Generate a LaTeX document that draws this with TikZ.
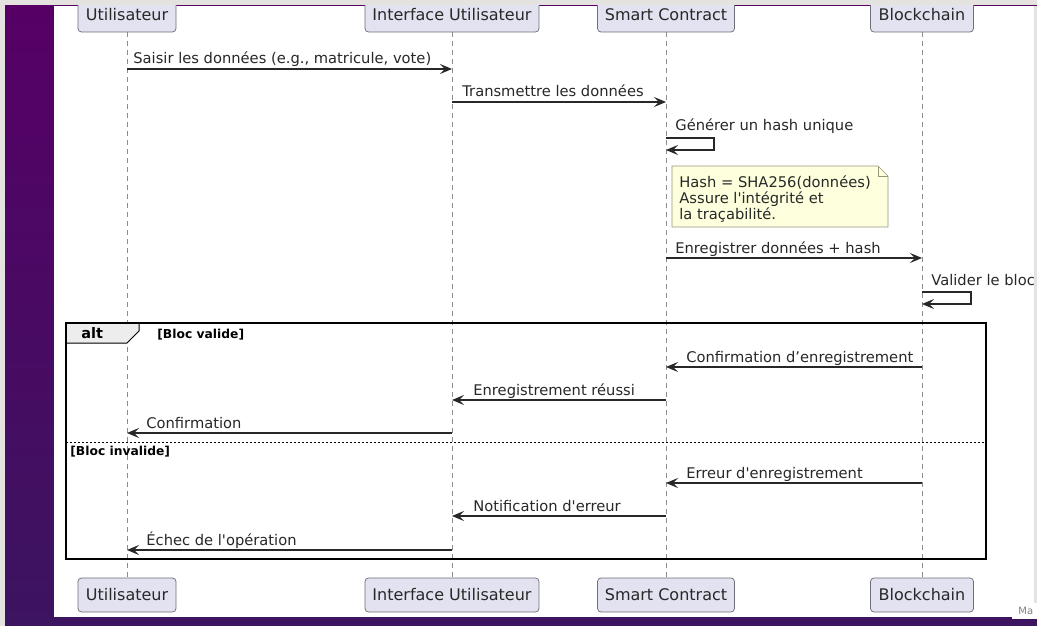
\documentclass[tikz,border=0pt]{standalone}
\usepackage{fontspec}
\setmainfont{DejaVu Sans}[Ligatures=TeXOff]
\usetikzlibrary{arrows.meta}

\definecolor{actorfill}{RGB}{226,226,240}
\definecolor{actorline}{RGB}{110,110,120}
\definecolor{notefill}{RGB}{254,255,221}
\definecolor{noteline}{RGB}{150,150,125}
\definecolor{inkgray}{RGB}{40,40,40}
\definecolor{pageback}{RGB}{228,227,223}
\definecolor{purpletop}{RGB}{86,0,102}
\definecolor{purplebot}{RGB}{60,20,96}

\tikzset{every picture/.style={line width=0.75pt}}
\tikzset{
  actor/.style={draw=actorline, fill=actorfill, rounded corners=3.5pt, minimum height=34pt, inner sep=0pt, font=\fontsize{16}{18}\selectfont, text=inkgray},
  lifeline/.style={draw=gray!90, line width=0.6pt, dash pattern=on 5pt off 4pt},
  msg/.style={draw=inkgray, line width=1.1pt, -{Stealth[length=12pt,width=10pt,inset=5pt]}},
  msgtext/.style={anchor=base west, inner sep=0pt, font=\fontsize{14.7}{16}\selectfont, text=inkgray},
  guard/.style={anchor=base west, inner sep=0pt, font=\bfseries\fontsize{12.3}{14}\selectfont, text=black},
}

\begin{document}
\begin{tikzpicture}[x=1pt,y=1pt,yscale=-1,xscale=1]
\useasboundingbox (0,0) rectangle (1037,626);

%Page background
\fill[pageback] (0,0) rectangle (1037,626);
\shade[top color=purpletop, bottom color=purplebot] (5,6) rectangle (1037,626);
\fill[pageback] (1034,6) rectangle (1037,603);
\fill[white] (54,6) rectangle (1034,617);
\fill[white] (1012,603) rectangle (1037,619);
% Text Node
\node[anchor=base west, inner sep=0pt, font=\fontsize{10}{11}\selectfont, text=gray] (mark) at (1018,614) {Ma};

\begin{scope}
\clip (54,6) rectangle (1034,617);

%Participants
\node[actor, minimum width=98pt] (ut) at (127,15) {Utilisateur};
\node[actor, minimum width=174pt] (ui) at (452,15) {Interface Utilisateur};
\node[actor, minimum width=137pt] (sc) at (666,15) {Smart Contract};
\node[actor, minimum width=103pt] (bc) at (922,15) {Blockchain};
\node[actor, minimum width=98pt] (utb) at (127,595) {Utilisateur};
\node[actor, minimum width=174pt] (uib) at (452,595) {Interface Utilisateur};
\node[actor, minimum width=137pt] (scb) at (666,595) {Smart Contract};
\node[actor, minimum width=103pt] (bcb) at (922,595) {Blockchain};

%Lifelines
\draw[lifeline] (ut) -- (utb);
\draw[lifeline] (ui) -- (uib);
\draw[lifeline] (sc) -- (scb);
\draw[lifeline] (bc) -- (bcb);

%Straight Lines
\draw[msg] (ut |- 0,69) -- (ui |- 0,69);
\draw[msg] (ui |- 0,102) -- (sc |- 0,102);
\draw[msg] (sc |- 0,138) -- ++(48,0) -- ++(0,12) -- (sc |- 0,150);
\draw[msg] (sc |- 0,258) -- (bc |- 0,258);
\draw[msg] (bc |- 0,292) -- ++(49,0) -- ++(0,12) -- (bc |- 0,304);

% Text Node
\node[msgtext] (t1) at (133,64) {Saisir les données (e.g., matricule, vote)};
% Text Node
\node[msgtext] (t2) at (462,97) {Transmettre les données};
% Text Node
\node[msgtext] (t3) at (675,131) {Générer un hash unique};
% Text Node
\node[msgtext] (t4) at (675,253) {Enregistrer données + hash};
% Text Node
\node[msgtext] (t5) at (931,285) {Valider le bloc};

%Shape: Note
\draw[noteline, fill=notefill, line width=0.6pt] (672,166) -- (878,166) -- (888,176) -- (888,227) -- (672,227) -- cycle;
\draw[noteline, line width=0.6pt] (878,166) -- (878,176) -- (888,176);
% Text Node
\node[msgtext, align=left, anchor=north west] (note) at (679,175) {Hash = SHA256(données)\\Assure l'intégrité et\\la traçabilité.};

%Shape: Frame
\fill[black!7] (66,323) -- (139,323) -- (139,331) -- (127,343) -- (66,343) -- cycle;
\draw[line width=1pt] (139,323) -- (139,331) -- (127,343) -- (66,343);
\draw[line width=1.6pt] (66,323) rectangle (986,559);
\draw[line width=0.8pt, dash pattern=on 2pt off 2pt] (66,442) -- (986,442);
% Text Node
\node[anchor=base west, inner sep=0pt, font=\bfseries\fontsize{14.5}{16}\selectfont] (alt) at (81,338) {alt};
% Text Node
\node[guard] (g1) at (157,338) {[Bloc valide]};
% Text Node
\node[guard] (g2) at (70,455) {[Bloc invalide]};

%Straight Lines
\draw[msg] (bc |- 0,367) -- (sc |- 0,367);
\draw[msg] (sc |- 0,400) -- (ui |- 0,400);
\draw[msg] (ui |- 0,433) -- (ut |- 0,433);
\draw[msg] (bc |- 0,483) -- (sc |- 0,483);
\draw[msg] (sc |- 0,516) -- (ui |- 0,516);
\draw[msg] (ui |- 0,550) -- (ut |- 0,550);

% Text Node
\node[msgtext] (t6) at (686,362) {Confirmation d’enregistrement};
% Text Node
\node[msgtext] (t7) at (473,395) {Enregistrement réussi};
% Text Node
\node[msgtext] (t8) at (146,428) {Confirmation};
% Text Node
\node[msgtext] (t9) at (686,478) {Erreur d'enregistrement};
% Text Node
\node[msgtext] (t10) at (473,511) {Notification d'erreur};
% Text Node
\node[msgtext] (t11) at (146,545) {Échec de l'opération};
\end{scope}

\end{tikzpicture}
\end{document}
